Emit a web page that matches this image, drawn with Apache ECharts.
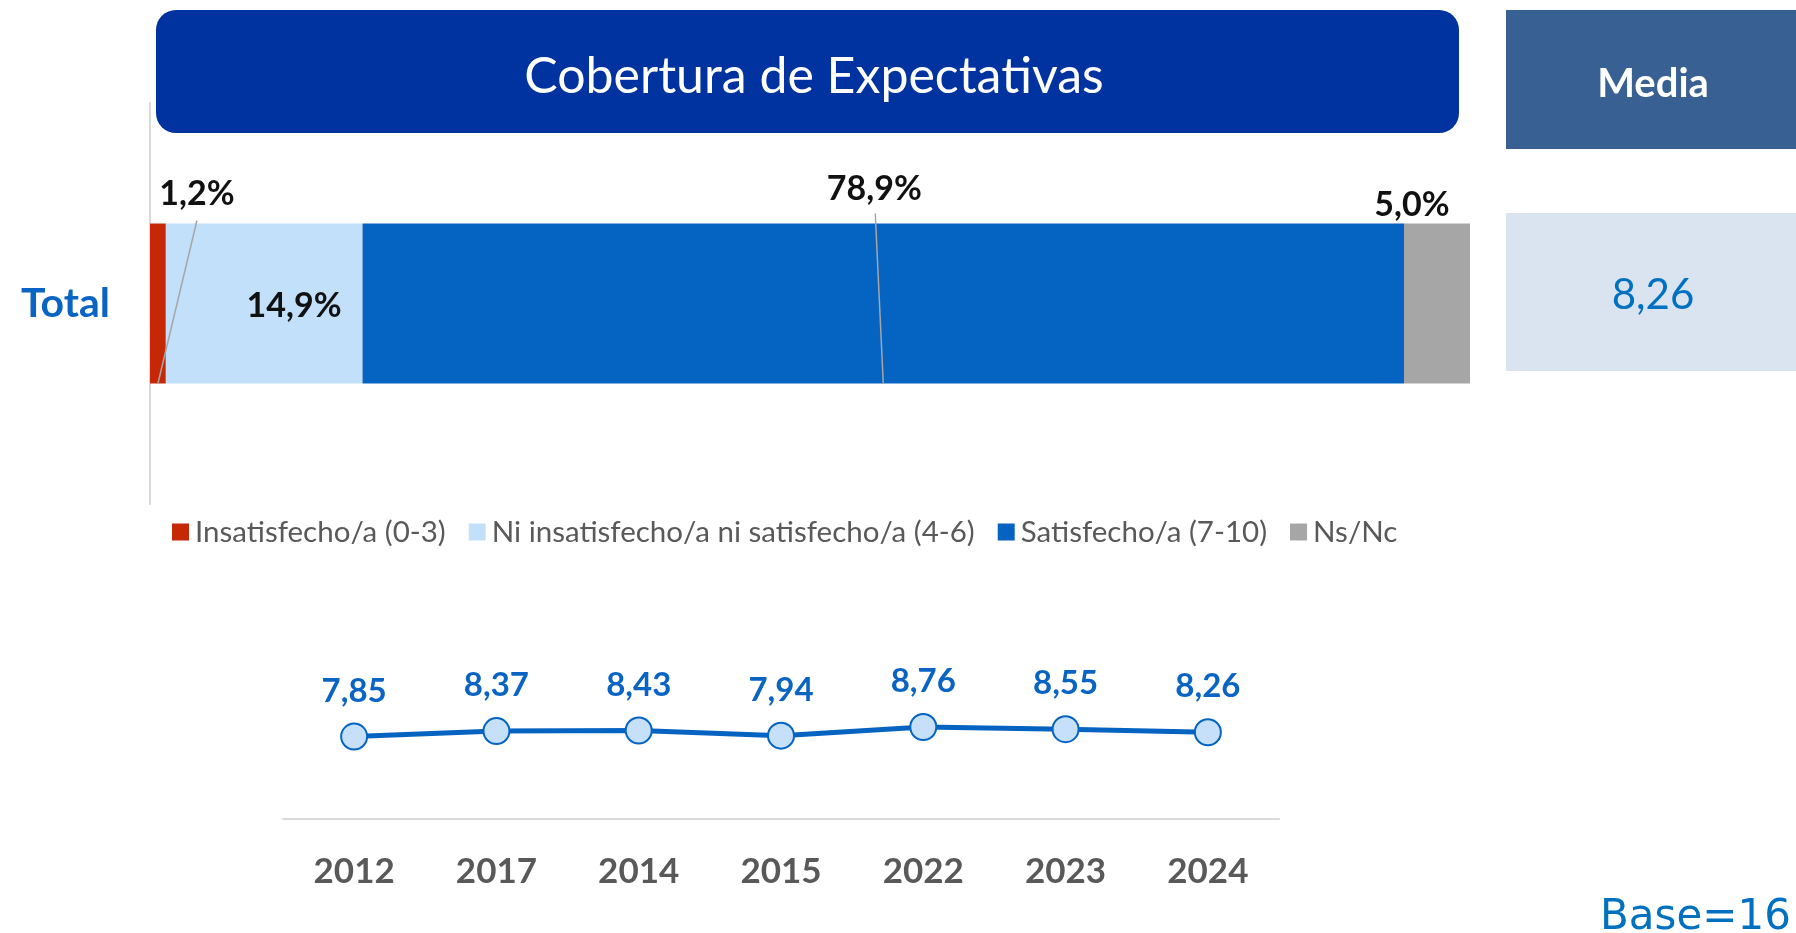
<!DOCTYPE html>
<html>
<head>
<meta charset="utf-8">
<script src="https://cdn.jsdelivr.net/npm/echarts@6/dist/echarts.min.js"></script>
<style>
  html, body { margin: 0; padding: 0; background: #fff; }
  #main { width: 1796px; height: 933px; }
</style>
</head>
<body>
<div id="main"></div>
<script>
// --- data ---
const barCategories = ['Total'];
const segmentNames = ['Insatisfecho/a (0-3)', 'Ni insatisfecho/a ni satisfecho/a (4-6)', 'Satisfecho/a (7-10)', 'Ns/Nc'];
const segmentValues = [1.2, 14.9, 78.9, 5.0];
const years = ['2012', '2017', '2014', '2015', '2022', '2023', '2024'];
const yearMeans = [7.85, 8.37, 8.43, 7.94, 8.76, 8.55, 8.26];
const mediaValue = 8.26;
const titleText = 'Cobertura de Expectativas';
const baseText = 'Base=16';

const segmentColors = ['#C62806', '#C2E0FA', '#0563C1', '#A6A6A6'];
const FONT = 'Lato, "Open Sans", sans-serif';

const comma = (v, d) => v.toFixed(d).replace('.', ',');

var chart = echarts.init(document.getElementById('main'));

// where each bar label sits, relative to its own segment
function barLabelLayout(i) {
  return function (p) {
    const r = p.rect;
    const mid = r.x + r.width / 2;
    if (i === 0) return { x: mid + 39, y: r.y - 29, align: 'center', verticalAlign: 'middle' };
    if (i === 1) return { x: r.x + r.width - 21, y: r.y + r.height / 2 + 3, align: 'right', verticalAlign: 'middle' };
    if (i === 2) return { x: mid - 9, y: r.y - 34, align: 'center', verticalAlign: 'middle' };
    return { x: mid - 25, y: r.y - 18, align: 'center', verticalAlign: 'middle' };
  };
}

const barSeries = segmentNames.map((name, i) => ({
  name: name,
  type: 'bar',
  stack: 'total',
  xAxisIndex: 0,
  yAxisIndex: 0,
  barWidth: 160,
  data: [segmentValues[i]],
  itemStyle: { color: segmentColors[i] },
  label: {
    show: true,
    formatter: p => comma(p.value, 1) + '%',
    fontFamily: FONT,
    fontWeight: 'bold',
    fontSize: 34,
    color: '#111'
  },
  labelLayout: barLabelLayout(i),
  emphasis: { disabled: true }
}));

var option = {
  animation: false,
  grid: [
    { left: 150, right: 326, top: 103, bottom: 429 },
    { left: 283, right: 517, top: 714, bottom: 114 }
  ],
  legend: {
    data: segmentNames,
    left: 172,
    top: 517,
    padding: 0,
    icon: 'rect',
    itemWidth: 17,
    itemHeight: 17,
    itemGap: 23,
    textStyle: { fontFamily: FONT, fontSize: 29.5, color: '#595959', padding: [0, 0, 0, 1] }
  },
  xAxis: [
    { gridIndex: 0, type: 'value', min: 0, max: 100, show: false },
    {
      gridIndex: 1, type: 'category', data: years,
      axisLine: { lineStyle: { color: '#D9D9D9', width: 2 } },
      axisTick: { show: false },
      axisLabel: { fontFamily: FONT, fontSize: 35, fontWeight: 'bold', color: '#595959', margin: 35 }
    }
  ],
  yAxis: [
    {
      gridIndex: 0, type: 'category', data: barCategories,
      axisLine: { lineStyle: { color: '#D9D9D9', width: 2 } },
      axisTick: { show: false },
      axisLabel: { fontFamily: FONT, fontSize: 41, fontWeight: 'bold', color: '#0A64C3', margin: 40 }
    },
    { gridIndex: 1, type: 'value', min: 0, max: 10, show: false }
  ],
  series: barSeries.concat([{
    name: 'Media',
    type: 'line',
    xAxisIndex: 1,
    yAxisIndex: 1,
    data: yearMeans,
    symbol: 'circle',
    symbolSize: 26,
    lineStyle: { color: '#0563C1', width: 5 },
    itemStyle: { color: '#C5E0F8', borderColor: '#0563C1', borderWidth: 2 },
    label: {
      show: true,
      position: 'top',
      distance: 15,
      formatter: p => comma(p.value, 2),
      fontFamily: FONT,
      fontWeight: 'bold',
      fontSize: 33,
      color: '#0A64C3'
    },
    emphasis: { disabled: true }
  }])
};

chart.setOption(option);

// leader lines for the two labels lifted above the bar
const cum = [];
segmentValues.reduce((s, v, i) => { cum[i] = [s, s + v]; return s + v; }, 0);
const centerY = chart.convertToPixel({ gridIndex: 0 }, [0, 0])[1];
const barTop = centerY - 80, barBottom = centerY + 80;
function segMid(i) {
  const a = chart.convertToPixel({ gridIndex: 0 }, [cum[i][0], 0])[0];
  const b = chart.convertToPixel({ gridIndex: 0 }, [cum[i][1], 0])[0];
  return (a + b) / 2;
}
const m0 = segMid(0), m2 = segMid(2);

chart.setOption({
  graphic: [
    // title banner
    { type: 'rect', shape: { x: 156, y: 10, width: 1303, height: 123, r: 20 }, style: { fill: '#0033A0' }, z: 1 },
    { type: 'text', style: { x: 814, y: 77, text: titleText, fill: '#fff', font: '50px ' + FONT, textAlign: 'center', textVerticalAlign: 'middle' }, z: 2 },
    // media boxes
    { type: 'rect', shape: { x: 1506, y: 10, width: 290, height: 139 }, style: { fill: '#386092' }, z: 1 },
    { type: 'text', style: { x: 1653, y: 84, text: 'Media', fill: '#fff', font: 'bold 40px ' + FONT, textAlign: 'center', textVerticalAlign: 'middle' }, z: 2 },
    { type: 'rect', shape: { x: 1506, y: 213, width: 290, height: 158 }, style: { fill: '#DAE3F0' }, z: 1 },
    { type: 'text', style: { x: 1653, y: 295, text: comma(mediaValue, 2), fill: '#0070C0', font: '42px ' + FONT, textAlign: 'center', textVerticalAlign: 'middle' }, z: 2 },
    // leader lines
    { type: 'line', shape: { x1: m0 + 39, y1: barTop - 3, x2: m0, y2: barBottom }, style: { stroke: '#A6A6A6', lineWidth: 1.5 }, z: 10 },
    { type: 'line', shape: { x1: m2 - 8, y1: barTop - 10, x2: m2, y2: barBottom }, style: { stroke: '#A6A6A6', lineWidth: 1.5 }, z: 10 },
    // base note
    { type: 'text', style: { x: 1600, y: 918, text: baseText, fill: '#0070C0', font: '42px "DejaVu Sans", Verdana, sans-serif', textAlign: 'left', textVerticalAlign: 'middle' }, z: 2 }
  ]
});

window.addEventListener('resize', chart.resize);
</script>
</body>
</html>
